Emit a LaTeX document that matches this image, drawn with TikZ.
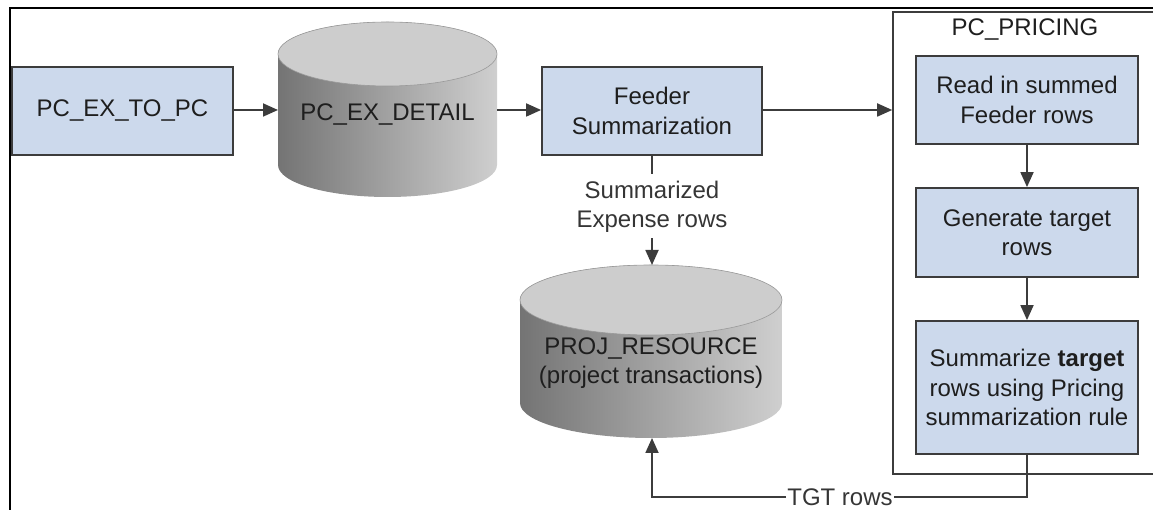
\documentclass[tikz,border=0pt]{standalone}
\usepackage{fontspec}
\setmainfont{Liberation Sans}
\usetikzlibrary{arrows.meta,calc}
\definecolor{boxfill}{HTML}{CCD9EC}
\definecolor{edge}{HTML}{3C3C3C}
\definecolor{txt}{HTML}{1E1E1E}
\definecolor{cyldark}{HTML}{747474}
\definecolor{cyllight}{HTML}{CFCFCF}
\definecolor{cyltop}{HTML}{CDCDCD}
\definecolor{cylline}{HTML}{9A9A9A}
\tikzset{
  procbox/.style={draw=edge, line width=1.8pt, fill=boxfill, text=txt, align=center,
    inner sep=0pt, font=\fontsize{24}{29.5}\selectfont},
  lbl/.style={text=txt, align=center, inner sep=0pt, font=\fontsize{24}{29.5}\selectfont},
  conn/.style={draw=edge, line width=1.8pt},
  arr/.style={conn, -{Triangle[length=15pt,width=13pt]}},
}
\begin{document}
\begin{tikzpicture}[x=1pt,y=1pt]
\useasboundingbox (0,0) rectangle (1153,510);
\begin{scope}
\clip (0,0) rectangle (1153,510);
% outer frame
\draw[black, line width=1.5pt] (10,-5) -- (10,502) -- (1170,502);
% PC_PRICING container
\node[draw=edge, line width=1.6pt, minimum width=272pt, minimum height=462pt, inner sep=0pt] (pricing) at (1029,267) {};
\end{scope}
\node[lbl] (pricinglbl) at (1025,480) {PC\_PRICING};

% cylinder 1: PC_EX_DETAIL
\shade[left color=cyldark, right color=cyllight]
  (278,456) -- (278,345) arc[start angle=180, end angle=360, x radius=109.5pt, y radius=32pt]
  -- (497,456) arc[start angle=0, end angle=180, x radius=109.5pt, y radius=32pt] -- cycle;
\draw[cylline, line width=0.6pt, fill=cyltop] (387.5,456) ellipse[x radius=109.5pt, y radius=32pt];
\node[lbl] (detail) at (387.5,395) {PC\_EX\_DETAIL};
\coordinate (c1w) at (278,400);
\coordinate (c1e) at (497,400);

% cylinder 2: PROJ_RESOURCE
\shade[left color=cyldark, right color=cyllight]
  (520,210) -- (520,107) arc[start angle=180, end angle=360, x radius=131pt, y radius=35pt]
  -- (782,210) arc[start angle=0, end angle=180, x radius=131pt, y radius=35pt] -- cycle;
\draw[cylline, line width=0.6pt, fill=cyltop] (651,210) ellipse[x radius=131pt, y radius=35pt];
\node[lbl] (resource) at (651,147) {PROJ\_RESOURCE\\(project transactions)};
\coordinate (c2top) at (652,245);
\coordinate (c2bot) at (652,72);

% process boxes
\node[procbox, minimum width=221pt, minimum height=88pt] (extopc) at (122.5,399) {PC\_EX\_TO\_PC};
\node[procbox, minimum width=220pt, minimum height=88pt] (feeder) at (652,399) {Feeder\\Summarization};
\node[procbox, minimum width=222pt, minimum height=88pt] (read) at (1027,410) {Read in summed\\Feeder rows};
\node[procbox, minimum width=222pt, minimum height=89pt] (gen) at (1027,277.5) {Generate target\\rows};
\node[procbox, minimum width=222pt, minimum height=133pt] (summ) at (1027,122.5) {Summarize \textbf{target}\\rows using Pricing\\summarization rule};

% labels
\node[lbl, text=txt!90] (sumexp) at (652,303) {Summarized\\Expense rows};
\node[lbl, text=txt!90, inner xsep=1pt] (tgt) at (840,13) {TGT rows};

% connectors
\draw[arr] (extopc.east |- 0,400) -- (c1w);
\draw[arr] (c1e) -- (feeder.west |- 0,400);
\draw[arr] (feeder.east |- 0,400) -- (pricing.west |- 0,400);
\draw[conn] (feeder.south) -- ($(sumexp.north)+(0,7)$);
\draw[arr] ($(sumexp.south)-(0,5)$) -- (c2top);
\draw[arr] (read.south) -- (gen.north);
\draw[arr] (gen.south) -- (summ.north);
\draw[conn] (summ.south) |- (tgt.east);
\draw[arr] (tgt.west) -| (c2bot);
\end{tikzpicture}
\end{document}
